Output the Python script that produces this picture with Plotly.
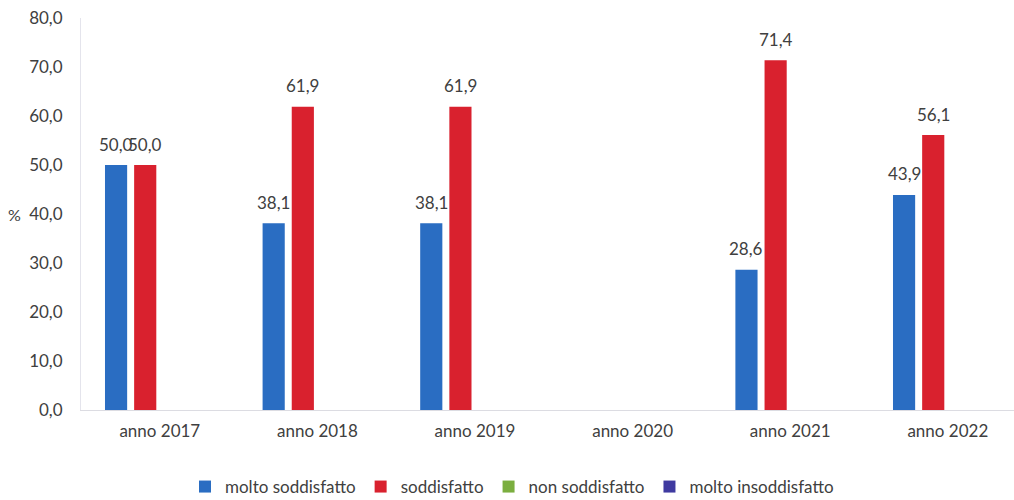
import plotly.graph_objects as go

# Survey results by year (percentages); None = no response recorded
categories = ["anno 2017", "anno 2018", "anno 2019", "anno 2020", "anno 2021", "anno 2022"]
molto_soddisfatto = [50.0, 38.1, 38.1, None, 28.6, 43.9]
soddisfatto = [50.0, 61.9, 61.9, None, 71.4, 56.1]
non_soddisfatto = [None, None, None, None, None, None]
molto_insoddisfatto = [None, None, None, None, None, None]
y_ticks = [0, 10, 20, 30, 40, 50, 60, 70, 80]

series = [
    ("molto soddisfatto", molto_soddisfatto, "#2A6DC2"),
    ("soddisfatto", soddisfatto, "#D9212E"),
    ("non soddisfatto", non_soddisfatto, "#7BAE3F"),
    ("molto insoddisfatto", molto_insoddisfatto, "#3F3AA0"),
]

W, H = 1014, 500
ML, MR, MT, MB = 81, 0, 18, 90
X_RANGE = [-0.5, 5.42]
BARGAP = 0.26
BARGROUPGAP = 0.24
FONT = "Lato, 'Open Sans', sans-serif"
TEXT = "#404040"

fig = go.Figure()
for name, vals, color in series:
    fig.add_trace(go.Bar(
        name=name, x=categories, y=vals,
        marker=dict(color=color, line=dict(width=0)),
    ))

# value labels above the bars, shifted to each bar's slot in the group
slot_px = (W - ML - MR) / (X_RANGE[1] - X_RANGE[0]) * (1 - BARGAP) / len(series)
for k, (name, vals, color) in enumerate(series):
    offset = (k - (len(series) - 1) / 2) * slot_px
    for cat, v in zip(categories, vals):
        if v is None:
            continue
        fig.add_annotation(
            x=cat, y=v, xref="x", yref="y",
            text=f"{v:.1f}".replace(".", ","),
            showarrow=False, xshift=offset, yshift=21,
            yanchor="middle", xanchor="center",
            font=dict(family=FONT, size=17, color=TEXT),
        )

# unit label at the far left of the value axis
fig.add_annotation(
    x=(14 - ML) / (W - ML - MR), y=40, xref="paper", yref="y",
    text="%", showarrow=False, xanchor="center", yanchor="middle",
    font=dict(family=FONT, size=16, color=TEXT),
)

fig.update_layout(
    width=W, height=H,
    margin=dict(l=ML, r=MR, t=MT, b=MB),
    barmode="group", bargap=BARGAP, bargroupgap=BARGROUPGAP,
    plot_bgcolor="white", paper_bgcolor="white",
    separators=",.",
    font=dict(family=FONT, size=17, color=TEXT),
    legend=dict(
        orientation="h", x=512 / W, xref="container", xanchor="center",
        y=(H - 487) / H, yref="container", yanchor="middle",
        font=dict(family=FONT, size=17, color=TEXT),
        itemwidth=30, tracegroupgap=0,
    ),
    showlegend=True,
)
fig.update_xaxes(
    range=X_RANGE, showgrid=False, showline=True, linecolor="#DCDCE2", linewidth=1,
    ticks="", ticklabelstandoff=6, tickfont=dict(family=FONT, size=17, color=TEXT),
)
fig.update_yaxes(
    range=[0, 80], tickvals=y_ticks, tickformat=".1f", showgrid=False,
    showline=True, linecolor="#E4E4EC", linewidth=1, ticks="",
    ticklabelstandoff=14, zeroline=False,
    tickfont=dict(family=FONT, size=17, color=TEXT),
)

fig.write_html("out.html")
